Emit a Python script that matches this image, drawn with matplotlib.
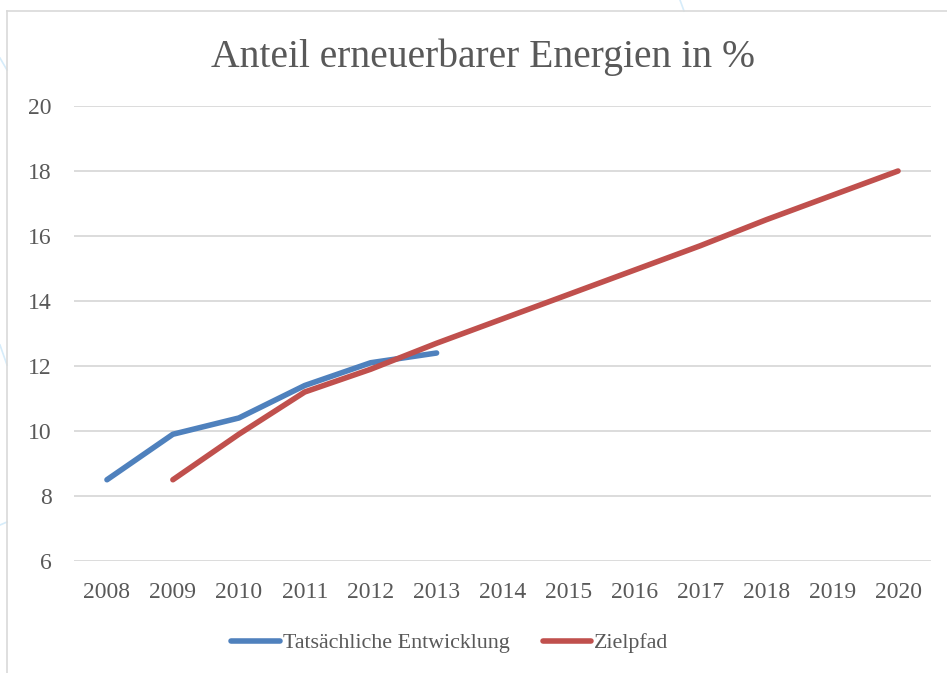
import matplotlib
matplotlib.use("Agg")
import matplotlib.pyplot as plt
from matplotlib.lines import Line2D

years = ["2008", "2009", "2010", "2011", "2012", "2013", "2014",
         "2015", "2016", "2017", "2018", "2019", "2020"]
actual = [8.5, 9.9, 10.4, 11.4, 12.1, 12.4]          # 2008-2013
target = [8.5, 9.9, 11.2, 11.9, 12.7, 13.45, 14.2,    # 2009-2020
          14.95, 15.7, 16.5, 17.25, 18.0]
yticks = [6, 8, 10, 12, 14, 16, 18, 20]
title = "Anteil erneuerbarer Energien in %"
series_names = ["Tatsächliche Entwicklung", "Zielpfad"]

BLUE = "#4F81BD"
RED = "#C0504D"
TXT = "#595959"
GRID = "#D9D9D9"
FONT = "Liberation Serif"

W, H = 947, 673
fig = plt.figure(figsize=(W / 100, H / 100), dpi=100)
fig.patch.set_facecolor("white")

# faint background decoration outside the chart frame
deco = "#D6ECFA"
fig.add_artist(Line2D([680 / W, 684 / W], [1, 1 - 11 / H], color=deco, lw=1.2))
fig.add_artist(Line2D([0, 7 / W], [1 - 58 / H, 1 - 70 / H], color=deco, lw=1.2))
fig.add_artist(Line2D([0, 7 / W], [1 - 345 / H, 1 - 365 / H], color=deco, lw=1.2))
fig.add_artist(Line2D([0, 7 / W], [1 - 525 / H, 1 - 522 / H], color=deco, lw=1.2))

# chart frame
fig.add_artist(Line2D([7 / W, 7 / W], [0, 1 - 11 / H], color=GRID, lw=1.2))
fig.add_artist(Line2D([7 / W, 1], [1 - 11 / H, 1 - 11 / H], color=GRID, lw=1.2))

ax = fig.add_axes([74 / W, 1 - 561 / H, (931 - 74) / W, (561 - 106) / H])
x_all = list(range(len(years)))
LW = 4.0
ax.plot(x_all[:len(actual)], actual, color=BLUE, lw=LW, solid_capstyle="round",
        solid_joinstyle="round", zorder=3)
ax.plot(x_all[1:1 + len(target)], target, color=RED, lw=LW, solid_capstyle="round",
        solid_joinstyle="round", zorder=4)

ax.set_xlim(-0.5, len(years) - 0.5)
ax.set_ylim(6, 20)
ax.set_yticks(yticks)
ax.set_yticklabels([str(v) for v in yticks])
ax.set_xticks(x_all)
ax.set_xticklabels(years)
for s in ax.spines.values():
    s.set_visible(False)
ax.grid(axis="y", color=GRID, lw=1.3, zorder=0)
ax.set_axisbelow(True)
ax.tick_params(axis="both", length=0, labelsize=17, labelcolor=TXT)
ax.tick_params(axis="y", pad=16)
ax.tick_params(axis="x", pad=15)
for lab in ax.get_xticklabels() + ax.get_yticklabels():
    lab.set_fontfamily(FONT)

fig.text(483 / W, 1 - 57 / H, title, ha="center", va="center",
         fontsize=28.5, color=TXT, family=FONT)

handles = [Line2D([], [], color=BLUE, lw=LW, solid_capstyle="round"),
           Line2D([], [], color=RED, lw=LW, solid_capstyle="round")]
leg = fig.legend(handles, series_names, loc="center", bbox_to_anchor=(450 / W, 1 - 643 / H),
                 ncol=2, frameon=False, handlelength=2.2, handletextpad=0.15,
                 columnspacing=1.5, prop={"family": FONT, "size": 15.8})
for t in leg.get_texts():
    t.set_color(TXT)

fig.savefig("out.png", dpi=100)
